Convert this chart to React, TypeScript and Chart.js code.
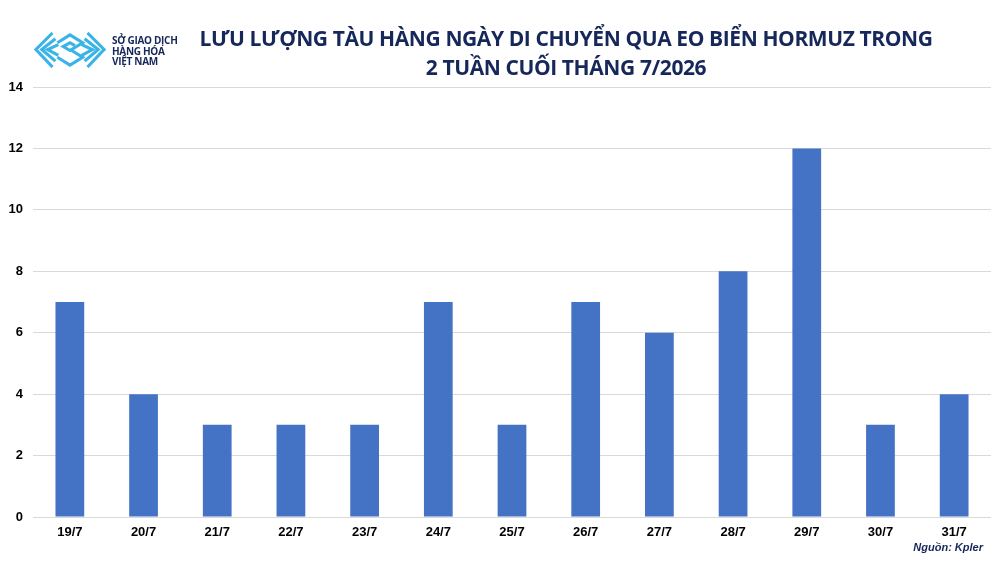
import { useEffect, useRef } from "react";
import { Chart, registerables } from "chart.js";

Chart.register(...registerables);

const days = ["19/7", "20/7", "21/7", "22/7", "23/7", "24/7", "25/7", "26/7", "27/7", "28/7", "29/7", "30/7", "31/7"];
const vessels = [7, 4, 3, 3, 3, 7, 3, 7, 6, 8, 12, 3, 4];
const yMax = 14;
const yStep = 2;

const navy = "#16275a";

function Logo() {
  // rough version of the exchange logo: nested chevrons in light blue
  const c = "#3ab4e6";
  const lines: string[] = [];
  for (let i = 0; i < 3; i++) {
    const o = i * 6;
    lines.push(`${17 - o / 2 + o},${o} ${o},${17} ${17 - o / 2 + o},${35 - o}`);
    lines.push(`${53 + o / 2 - o},${o} ${70 - o},${17} ${53 + o / 2 - o},${35 - o}`);
  }
  return (
    <svg width="72" height="36" viewBox="-1 -1 72 37" style={{ position: "absolute", left: 34, top: 32 }}>
      {lines.map((p, i) => (
        <polyline key={i} points={p} fill="none" stroke={c} strokeWidth="3.2" strokeLinejoin="miter" />
      ))}
      <polyline points="22,10 35,2 48,10 35,18 28,14 35,10 40,13" fill="none" stroke={c} strokeWidth="3.2" />
      <polyline points="22,25 35,33 48,25 35,17" fill="none" stroke={c} strokeWidth="3.2" />
    </svg>
  );
}

export default function App() {
  const chartRef = useRef<HTMLCanvasElement>(null);
  const chartInstanceRef = useRef<Chart | null>(null);

  useEffect(() => {
    if (!chartRef.current) return;
    if (chartInstanceRef.current) {
      chartInstanceRef.current.destroy();
    }
    const ctx = chartRef.current.getContext("2d");
    if (!ctx) return;

    chartInstanceRef.current = new Chart(ctx, {
      type: "bar",
      data: {
        labels: days,
        datasets: [{
          label: "Tàu hàng",
          data: vessels,
          backgroundColor: "#4472c4",
          borderWidth: 0,
          categoryPercentage: 1,
          barPercentage: 0.39,
        }]
      },
      options: {
        responsive: false,
        animation: false,
        layout: { padding: { top: 87, left: 0, right: 9, bottom: 20 } },
        plugins: {
          legend: { display: false },
          tooltip: { enabled: false },
        },
        scales: {
          x: {
            grid: { display: false },
            border: { display: false },
            ticks: {
              color: "#000",
              padding: 0,
              maxRotation: 0,
              font: { family: "Liberation Sans", size: 13, weight: "bold" },
            },
            afterFit: (s: any) => { s.height = 25; },
          },
          y: {
            min: 0,
            max: yMax,
            ticks: {
              stepSize: yStep,
              color: "#000",
              padding: 10,
              font: { family: "Liberation Sans", size: 13, weight: "bold" },
            },
            grid: { color: "#d9d9d9", drawTicks: false, lineWidth: 1 },
            border: { display: false },
            afterFit: (s: any) => { s.width = 33; },
          },
        },
      },
    });

    return () => {
      if (chartInstanceRef.current) {
        chartInstanceRef.current.destroy();
        chartInstanceRef.current = null;
      }
    };
  }, []);

  return (
    <div style={{ position: "absolute", left: 0, top: 0, width: 1000, height: 562, background: "#fff", overflow: "hidden" }}>
      <canvas ref={chartRef} width={1000} height={562} style={{ position: "absolute", left: 0, top: 0 }} />
      <Logo />
      <div style={{ position: "absolute", left: 112, top: 35, color: navy, fontFamily: "Open Sans", fontWeight: 700, fontSize: 10, lineHeight: "10.5px", letterSpacing: -0.3 }}>
        SỞ GIAO DỊCH<br />HÀNG HÓA<br />VIỆT NAM
      </div>
      <div style={{ position: "absolute", left: 166, width: 800, top: 24, textAlign: "center", whiteSpace: "nowrap", color: navy, fontFamily: "Open Sans", fontWeight: 700, fontSize: 21, letterSpacing: -0.4, lineHeight: "29px" }}>
        LƯU LƯỢNG TÀU HÀNG NGÀY DI CHUYỂN QUA EO BIỂN HORMUZ TRONG<br />2 TUẦN CUỐI THÁNG 7/2026
      </div>
      <div style={{ position: "absolute", right: 17, top: 541, color: navy, fontFamily: "Liberation Sans", fontStyle: "italic", fontWeight: 700, fontSize: 11 }}>
        Nguồn: Kpler
      </div>
    </div>
  );
}
